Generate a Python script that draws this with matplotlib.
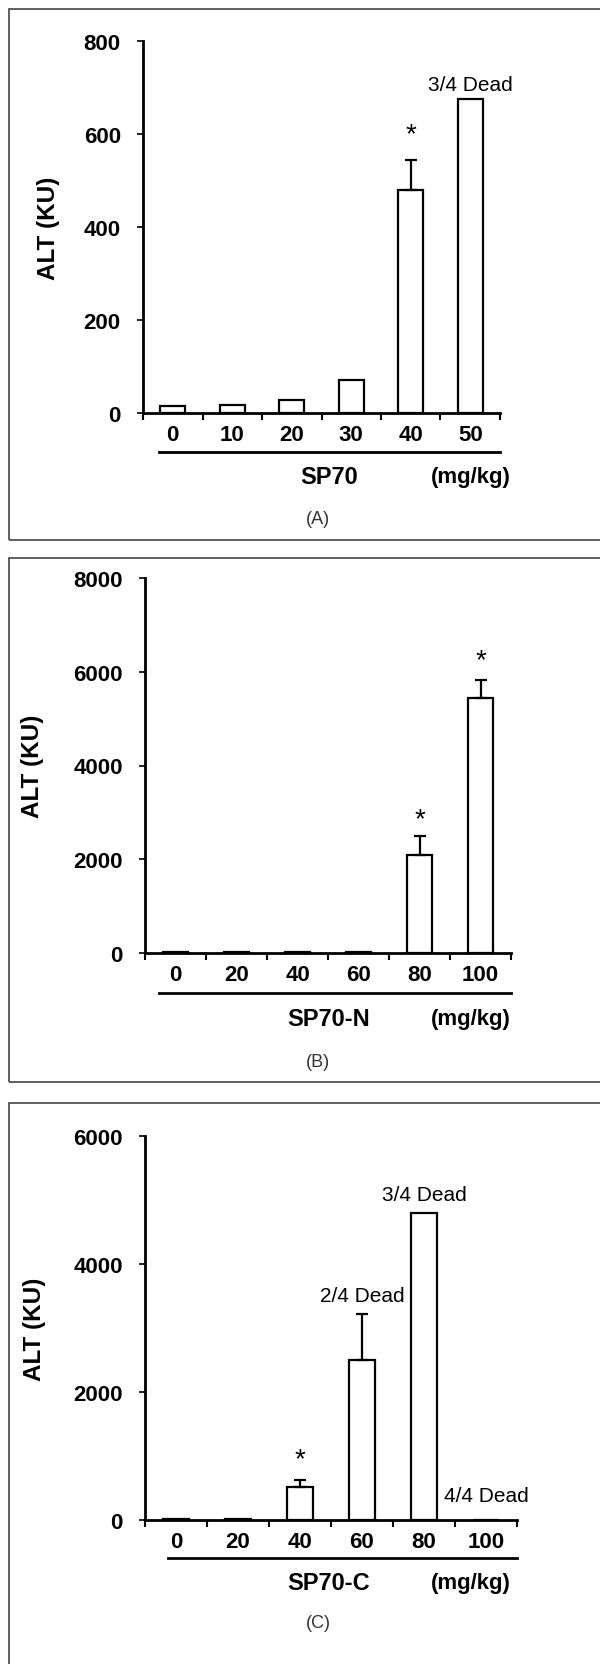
import matplotlib.pyplot as plt
from matplotlib.patches import Rectangle
import numpy as np

plt.rcParams["font.family"] = ["Liberation Sans", "DejaVu Sans"]

# panel A - SP70
dose_a = ["0", "10", "20", "30", "40", "50"]
alt_a = [15, 18, 27, 72, 480, 675]
err_a = [0, 0, 0, 0, 64, 0]

# panel B - SP70-N
dose_b = ["0", "20", "40", "60", "80", "100"]
alt_b = [30, 20, 25, 20, 2100, 5430]
err_b = [0, 0, 0, 0, 400, 400]

# panel C - SP70-C
dose_c = ["0", "20", "40", "60", "80", "100"]
alt_c = [20, 15, 520, 2500, 4800, 0]
err_c = [0, 0, 100, 720, 0, 0]

W, H = 600, 1665
fig = plt.figure(figsize=(W / 100, H / 100), dpi=100)


def px(x, y):
    return x / W, 1 - y / H


def panel(left, right, y0, ytop, ymax, yticks, doses, vals, errs, name, tag,
          box, ylab_x, ann):
    x0, b = px(left, y0)
    ax = fig.add_axes([x0, b, (right - left) / W, (y0 - ytop) / H])
    pos = np.arange(len(doses))
    ax.bar(pos, vals, width=0.42, color="white", edgecolor="black", linewidth=1.6, zorder=2)
    for p, v, e in zip(pos, vals, errs):
        if e > 0:
            ax.errorbar(p, v, yerr=[[0], [e]], color="black", capsize=4, capthick=1.6,
                        elinewidth=1.6, zorder=3)
    ax.set_xlim(-0.5, len(doses) - 0.5)
    ax.set_ylim(0, ymax)
    ax.set_yticks(yticks)
    ax.set_yticklabels([str(t) for t in yticks], fontsize=16, fontweight="bold")
    ax.set_xticks(pos)
    ax.set_xticklabels(doses, fontsize=16, fontweight="bold")
    ax.set_xticks(np.arange(-0.5, len(doses)), minor=True)
    ax.tick_params(axis="x", which="major", length=0, pad=8)
    ax.tick_params(axis="x", which="minor", length=5, width=1.5, direction="out")
    ax.tick_params(axis="y", length=4, width=1.2, pad=12)
    for s in ["top", "right"]:
        ax.spines[s].set_visible(False)
    for s in ["left", "bottom"]:
        ax.spines[s].set_linewidth(2)
    ax.set_ylabel("ALT (KU)", fontsize=17.5, fontweight="bold")
    ax.yaxis.set_label_coords(ylab_x, 0.5)
    for i, txt, yv, fs in ann:
        ax.text(i, yv, txt, ha="center", va="center", fontsize=fs)
    # underline below dose labels
    ux0, uy = px(box[4], box[5])
    ux1, _ = px(right, box[5])
    fig.add_artist(plt.Line2D([ux0, ux1], [uy, uy], color="black", lw=2))
    tx, ty = px(329, box[5] + 25)
    fig.text(tx, ty, name, ha="center", va="center", fontsize=17, fontweight="bold")
    tx, ty = px(471, box[5] + 25)
    fig.text(tx, ty, "(mg/kg)", ha="center", va="center", fontsize=16, fontweight="bold")
    tx, ty = px(318, box[6])
    fig.text(tx, ty, tag, ha="center", va="center", fontsize=13, color="#333333")
    bx, by = px(box[0], box[3])
    fig.add_artist(Rectangle((bx, by), (box[1] - box[0]) / W, (box[3] - box[2]) / H,
                             transform=fig.transFigure, fill=False, edgecolor="#444444", lw=1.2))
    return ax


panel(143, 500, 414, 42, 800, [0, 200, 400, 600, 800], dose_a, alt_a, err_a,
      "SP70", "(A)", (9, 620, 10, 541, 159, 453, 520), -0.232,
      [(4, "*", 600, 20), (5, "3/4 Dead", 707, 15)])

panel(145, 511, 954, 579, 8000, [0, 2000, 4000, 6000, 8000], dose_b, alt_b, err_b,
      "SP70-N", "(B)", (9, 620, 559, 1083, 159, 994, 1063), -0.276,
      [(4, "*", 2860, 20), (5, "*", 6250, 20)])

panel(145, 517, 1521, 1137, 6000, [0, 2000, 4000, 6000], dose_c, alt_c, err_c,
      "SP70-C", "(C)", (9, 620, 1104, 1690, 168, 1559, 1624), -0.266,
      [(2, "*", 950, 20), (3, "2/4 Dead", 3500, 15), (4, "3/4 Dead", 5090, 15),
       (5, "4/4 Dead", 375, 15)])

fig.savefig("out.png", dpi=100)
